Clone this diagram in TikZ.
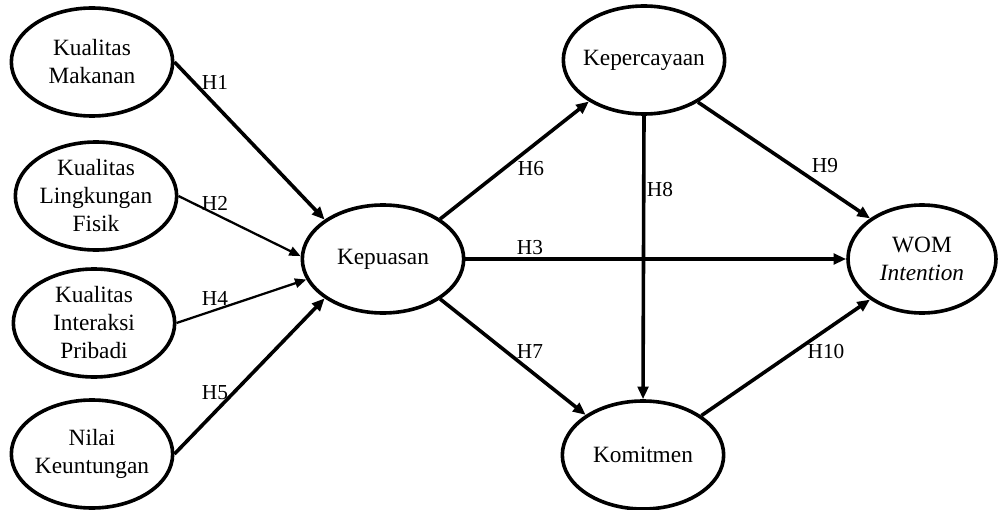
\documentclass[tikz,border=0pt]{standalone}
\usepackage{fontspec}
\setmainfont{Liberation Serif}
\usetikzlibrary{shapes.geometric,arrows.meta}
\begin{document}
\begin{tikzpicture}[x=0.75pt,y=-0.75pt,
  latent/.style={ellipse,draw,line width=2.7pt,minimum width=121pt,minimum height=81pt,inner sep=0pt},
  vartext/.style={align=center,inner sep=0pt,font=\fontsize{17.5}{21}\selectfont},
  strong/.style={line width=2.7pt,-{Triangle[length=9.5pt,width=8pt]}},
  weak/.style={line width=1.7pt,-{Triangle[length=8.5pt,width=7pt]}},
  hyp/.style={inner sep=0pt,font=\fontsize{16}{18}\selectfont}]
\useasboundingbox (0,0) rectangle (1000,510);

% latent variables
\node[latent,label={[vartext]center:Kualitas\\Makanan}] (km) at (92,62) {};
\node[latent,label={[vartext]center:Kualitas\\Lingkungan\\Fisik}] (klf) at (96,196) {};
\node[latent,label={[vartext]center:Kualitas\\Interaksi\\Pribadi}] (kip) at (94,323) {};
\node[latent,label={[vartext]center:Nilai\\Keuntungan}] (nk) at (92,454) {};
\node[latent,label={[vartext]center:Kepuasan}] (kep) at (383,259) {};
\node[latent,label={[vartext]center:Kepercayaan}] (kpc) at (644,60) {};
\node[latent,label={[vartext]center:Komitmen}] (kom) at (643,455) {};
\node[latent,minimum width=111pt,label={[vartext]center:WOM\\\textit{Intention}}] (wom) at (922,259) {};

% structural paths
\draw[strong] (km.east) -- (kep.146);
\draw[weak] (klf.east) -- (kep.178);
\draw[weak] (kip.east) -- (kep.195);
\draw[strong] (nk.east) -- (kep.214);
\draw[strong] (kep.35) -- (kpc.217);
\draw[strong] (kep.east) -- (wom.west);
\draw[strong] (kep.325) -- (kom.145);
\draw[strong] (kpc.south) -- (kom.north);
\draw[strong] (kpc.322) -- (wom.142);
\draw[strong] (kom.34) -- (wom.218);

% hypothesis labels
\node[hyp] (h1) at (215,82) {H1};
\node[hyp] (h2) at (215,203) {H2};
\node[hyp] (h4) at (215,298) {H4};
\node[hyp] (h5) at (215,393) {H5};
\node[hyp] (h6) at (531,169) {H6};
\node[hyp] (h3) at (530,248) {H3};
\node[hyp] (h8) at (660,190) {H8};
\node[hyp] (h7) at (530,352) {H7};
\node[hyp] (h9) at (825,166) {H9};
\node[hyp] (h10) at (826,352) {H10};
\end{tikzpicture}
\end{document}
